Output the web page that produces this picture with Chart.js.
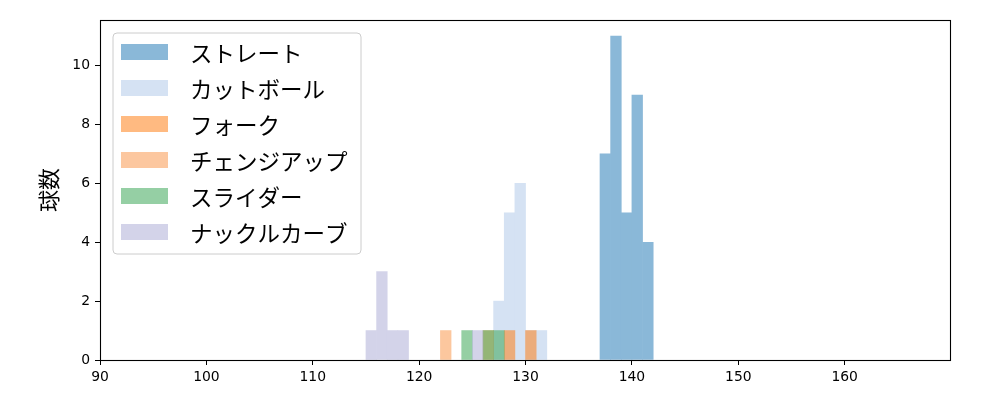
<!DOCTYPE html>
<html>
<head>
<meta charset="utf-8">
<script src="https://cdn.jsdelivr.net/npm/chart.js@4.4.1/dist/chart.umd.min.js"></script>
<style>
  html, body { margin: 0; padding: 0; background: #fff; }
  #wrap { width: 1000px; height: 400px; position: relative; }
</style>
</head>
<body>
<div id="wrap"><canvas id="c"></canvas></div>
<script>
// ---- data (histogram bins of width 1, keyed by bin start) ----
const BIN_WIDTH = 1;
const seriesNames = ['ストレート', 'カットボール', 'フォーク', 'チェンジアップ', 'スライダー', 'ナックルカーブ'];

const straightBins   = [137, 138, 139, 140, 141];
const straightCounts = [7, 11, 5, 9, 4];

const cutterBins   = [127, 128, 129, 130, 131];
const cutterCounts = [2, 5, 6, 1, 1];

const forkBins   = [128, 130];
const forkCounts = [1, 1];

const changeupBins   = [122, 126];
const changeupCounts = [1, 1];

const sliderBins   = [124, 126, 127];
const sliderCounts = [1, 1, 1];

const knuckleBins   = [115, 116, 117, 118, 125];
const knuckleCounts = [1, 3, 1, 1, 1];

const xTicks = [90, 100, 110, 120, 130, 140, 150, 160];
const yTicks = [0, 2, 4, 6, 8, 10];
const yLabel = '球数';

// ---- styles ----
const baseColors = [
  'rgb(31,119,180)',
  'rgb(174,199,232)',
  'rgb(255,122,14)',
  'rgb(250,148,70)',
  'rgb(52,163,80)',
  'rgb(171,171,213)'
];
const ALPHA = 0.52;

const binSets = [straightBins, cutterBins, forkBins, changeupBins, sliderBins, knuckleBins];
const countSets = [straightCounts, cutterCounts, forkCounts, changeupCounts, sliderCounts, knuckleCounts];

const datasets = seriesNames.map((name, i) => ({
  label: name,
  data: binSets[i].map((b, j) => ({ x: b + BIN_WIDTH / 2, y: countSets[i][j] })),
  backgroundColor: baseColors[i],
  borderWidth: 0,
  grouped: false,
  barPercentage: 1,
  categoryPercentage: 1,
  order: seriesNames.length - i
}));

// draw each dataset opaque on an offscreen layer, then composite it with alpha
// (avoids seams between adjacent translucent bars, like a single hist patch set)
const alphaLayer = {
  id: 'alphaLayer',
  beforeDatasetDraw(chart, args) {
    const ctrl = args.meta.controller;
    if (!ctrl || !ctrl._ctx) return;
    if (!this._off) this._off = document.createElement('canvas');
    const off = this._off;
    off.width = chart.canvas.width;
    off.height = chart.canvas.height;
    const octx = off.getContext('2d');
    octx.setTransform(chart.ctx.getTransform());
    const a = chart.chartArea;
    octx.beginPath();
    octx.rect(a.left, a.top, a.right - a.left, a.bottom - a.top);
    octx.clip();
    this._saved = ctrl._ctx;
    ctrl._ctx = octx;
  },
  afterDatasetDraw(chart, args) {
    const ctrl = args.meta.controller;
    if (!this._saved) return;
    ctrl._ctx = this._saved;
    this._saved = null;
    const ctx = chart.ctx;
    ctx.save();
    ctx.setTransform(1, 0, 0, 1, 0, 0);
    ctx.globalAlpha = ALPHA;
    ctx.drawImage(this._off, 0, 0);
    ctx.restore();
  }
};

const frameAndLegend = {
  id: 'frameAndLegend',
  afterDraw(chart) {
    const ctx = chart.ctx;
    const a = chart.chartArea;
    ctx.save();
    // spines
    ctx.strokeStyle = '#000';
    ctx.lineWidth = 1.1;
    ctx.strokeRect(Math.round(a.left) + 0.5, Math.round(a.top) + 0.5,
                   Math.round(a.right - a.left), Math.round(a.bottom - a.top));
    // legend
    const bx = 113, by = 33, bw = 248, bh = 221, r = 4;
    ctx.beginPath();
    ctx.moveTo(bx + r, by);
    ctx.arcTo(bx + bw, by, bx + bw, by + bh, r);
    ctx.arcTo(bx + bw, by + bh, bx, by + bh, r);
    ctx.arcTo(bx, by + bh, bx, by, r);
    ctx.arcTo(bx, by, bx + bw, by, r);
    ctx.closePath();
    ctx.fillStyle = 'rgba(255,255,255,0.8)';
    ctx.fill();
    ctx.strokeStyle = '#cccccc';
    ctx.lineWidth = 1;
    ctx.stroke();
    ctx.font = '22.5px "Noto Sans CJK JP", sans-serif';
    ctx.textBaseline = 'middle';
    ctx.textAlign = 'left';
    chart.data.datasets.forEach((ds, i) => {
      const cy = 52 + i * 36;
      ctx.globalAlpha = ALPHA;
      ctx.fillStyle = ds.backgroundColor;
      ctx.fillRect(121, cy - 8, 47, 16);
      ctx.globalAlpha = 1;
      ctx.fillStyle = '#000';
      ctx.fillText(ds.label, 190, cy + 1);
    });
    ctx.restore();
  }
};

new Chart(document.getElementById('c'), {
  type: 'bar',
  data: { datasets },
  options: {
    responsive: true,
    maintainAspectRatio: false,
    animation: false,
    events: [],
    layout: { padding: { left: 0, right: 50, top: 20, bottom: 0 } },
    plugins: { legend: { display: false }, tooltip: { enabled: false } },
    scales: {
      x: {
        type: 'linear',
        min: 90,
        max: 169.9,
        offset: false,
        grid: { display: true, drawOnChartArea: false, offset: false, tickLength: 5, color: '#000', tickWidth: 1 },
        border: { display: false },
        afterBuildTicks(axis) { axis.ticks = xTicks.map(v => ({ value: v })); },
        afterFit(axis) { axis.height = 40; },
        ticks: {
          color: '#000',
          padding: 4,
          maxRotation: 0,
          autoSkip: false,
          font: { family: '"DejaVu Sans", sans-serif', size: 13.9 },
          callback: (v) => String(v)
        }
      },
      y: {
        type: 'linear',
        min: 0,
        max: 11.55,
        grid: { display: true, drawOnChartArea: false, tickLength: 5, color: '#000', tickWidth: 1 },
        border: { display: false },
        afterBuildTicks(axis) { axis.ticks = yTicks.map(v => ({ value: v })); },
        afterFit(axis) { axis.width = 100; },
        title: {
          display: true,
          text: yLabel,
          color: '#000',
          font: { family: '"Noto Sans CJK JP", sans-serif', size: 22 },
          padding: { top: 35, bottom: 0 }
        },
        ticks: {
          color: '#000',
          padding: 5,
          autoSkip: false,
          font: { family: '"DejaVu Sans", sans-serif', size: 13.9 },
          callback: (v) => String(v)
        }
      }
    }
  },
  plugins: [alphaLayer, frameAndLegend]
});
</script>
</body>
</html>
